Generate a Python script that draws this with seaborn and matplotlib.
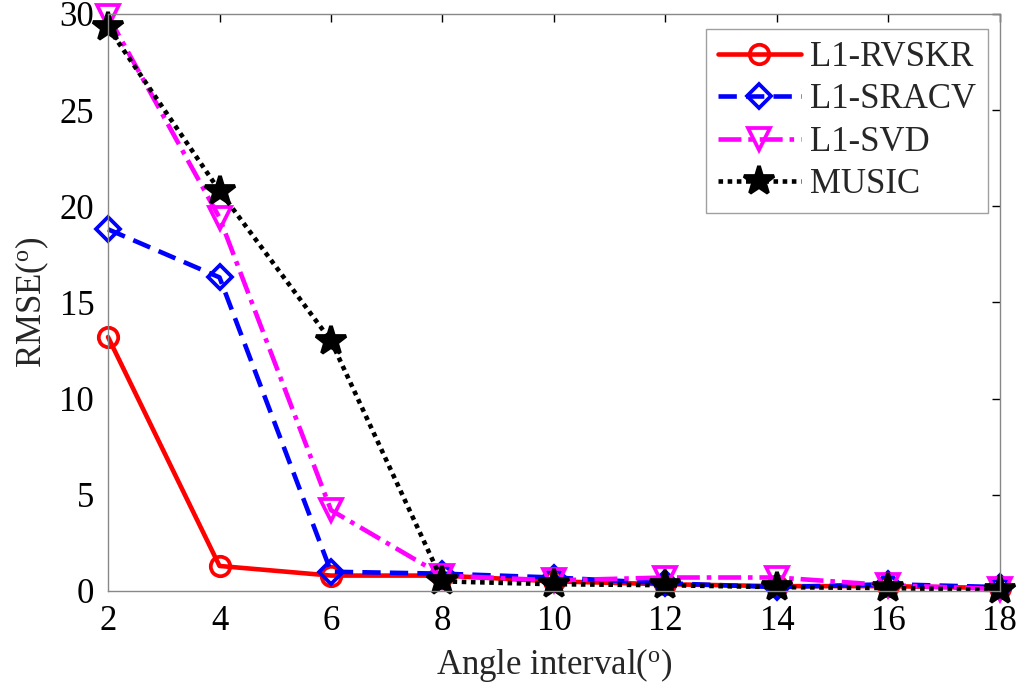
import matplotlib
matplotlib.use("Agg")
import matplotlib.pyplot as plt
import numpy as np
import pandas as pd
import seaborn as sns

angle = [2, 4, 6, 8, 10, 12, 14, 16, 18]
rvskr = [13.2, 1.3, 0.8, 0.8, 0.5, 0.35, 0.25, 0.25, 0.15]
sracv = [18.8, 16.3, 1.0, 0.9, 0.7, 0.4, 0.2, 0.35, 0.2]
svd = [29.9, 19.4, 4.2, 0.8, 0.55, 0.7, 0.7, 0.3, 0.1]
music = [29.3, 20.8, 13.0, 0.5, 0.35, 0.3, 0.2, 0.15, 0.05]

series = {"L1-RVSKR": rvskr, "L1-SRACV": sracv, "L1-SVD": svd, "MUSIC": music}
styles = {
    "L1-RVSKR": dict(color="#ff0000", linestyle="-", marker="o", markersize=14),
    "L1-SRACV": dict(color="#0000ff", linestyle=(0, (4, 2)), marker="D", markersize=12),
    "L1-SVD": dict(color="#ff00ff", linestyle=(0, (5, 1.5, 1, 1.5)), marker="v", markersize=16),
    "MUSIC": dict(color="#000000", linestyle=(0, (1, 1)), marker="*", markersize=22),
}

df = pd.DataFrame(
    [(a, name, v) for name, vals in series.items() for a, v in zip(angle, vals)],
    columns=["angle", "method", "rmse"],
)

sns.set_theme(style="white")
plt.rcParams["font.family"] = ["Liberation Serif", "DejaVu Serif"]
plt.rcParams["mathtext.fontset"] = "custom"
plt.rcParams["mathtext.rm"] = "Liberation Serif"

fs = 25
fig = plt.figure(figsize=(10.24, 6.92), dpi=100)
ax = fig.add_axes([0.1055, 0.146, 0.871, 0.834])

for name in series:
    st = styles[name]
    sub = df[df["method"] == name]
    sns.lineplot(
        data=sub, x="angle", y="rmse", ax=ax, label=name,
        color=st["color"], linestyle=st["linestyle"], linewidth=3.3,
        marker=st["marker"], markersize=st["markersize"],
        markerfacecolor="none" if st["marker"] != "*" else st["color"],
        markeredgecolor=st["color"], markeredgewidth=2.7, clip_on=False,
    )

ax.set_xlim(2, 18)
ax.set_ylim(0, 30)
ax.set_xticks(np.arange(2, 19, 2))
ax.set_yticks(np.arange(0, 31, 5))
ax.tick_params(direction="in", length=6, width=1, colors="black", labelsize=fs,
               top=True, right=True, pad=10)
for sp in ax.spines.values():
    sp.set_color("#888888")
    sp.set_linewidth(1)
ax.set_xlabel(r"Angle interval($\mathregular{^o}$)", fontsize=fs, labelpad=6)
ax.set_ylabel(r"RMSE($\mathregular{^o}$)", fontsize=fs, labelpad=6)

leg = ax.legend(loc="upper right", fontsize=fs, handlelength=2.4, frameon=True,
                fancybox=False, borderpad=0.35, labelspacing=0.27, handletextpad=0.25,
                borderaxespad=0, bbox_to_anchor=(0.9865, 0.974))
leg.get_frame().set_edgecolor("#888888")
leg.get_frame().set_linewidth(1)

fig.savefig("out.png", dpi=100)
